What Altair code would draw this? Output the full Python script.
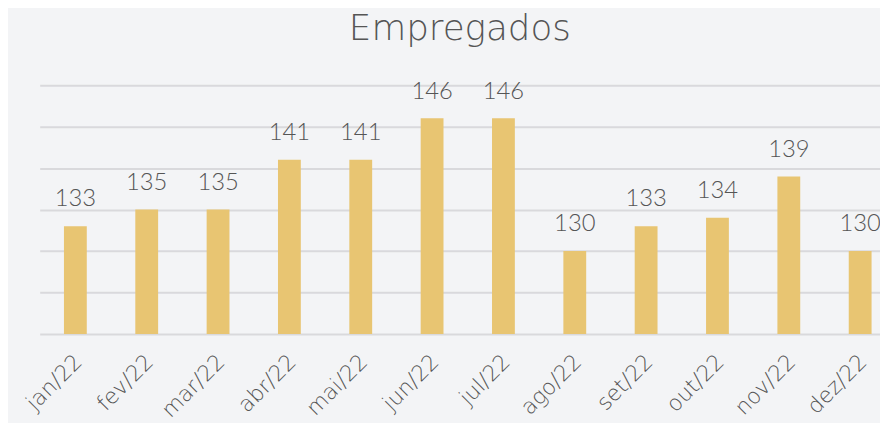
import altair as alt
import pandas as pd

months = ["jan/22", "fev/22", "mar/22", "abr/22", "mai/22", "jun/22",
          "jul/22", "ago/22", "set/22", "out/22", "nov/22", "dez/22"]
empregados = [133, 135, 135, 141, 141, 146, 146, 130, 133, 134, 139, 130]

df = pd.DataFrame({"mes": months, "valor": empregados})

FONT = "Lato"
WIDE = "DejaVu Sans"
BAR = "#e8c572"
TXT = "#555555"

x = alt.X("mes:N", sort=months, title=None,
          scale=alt.Scale(paddingInner=0.68, paddingOuter=0.229, align=0.742),
          axis=alt.Axis(labelAngle=-45, labelFontSize=22, labelFont=WIDE,
                        labelFontWeight=200, labelColor=TXT, labelPadding=17,
                        labelOffset=-4,
                        domain=False, ticks=False, grid=False))
y = alt.Y("valor:Q", title=None,
          scale=alt.Scale(domain=[120, 150], nice=False, zero=False),
          axis=alt.Axis(values=[120, 125, 130, 135, 140, 145, 150], labels=False,
                        ticks=False, domain=False, grid=True,
                        gridColor="#d9d9dc", gridWidth=2))

base = alt.Chart(df).encode(x=x, y=y)
bars = base.mark_bar(color=BAR, clip=True)
labels = base.mark_text(baseline="bottom", dy=-15, fontSize=24, font=FONT,
                        fontWeight=300, color=TXT).encode(text="valor:Q")

chart = (bars + labels).properties(
    width=848, height=251,
    background="#f3f4f6",
    autosize=alt.AutoSizeParams(type="none"),
    padding={"left": 32, "top": 76, "right": 0, "bottom": 88},
    title=alt.TitleParams("Empregados", fontSize=36, font=WIDE, fontWeight=200,
                          color=TXT, offset=32, anchor="middle"),
).configure_view(stroke=None)

chart.save("out.html", embed_options={"renderer": "svg", "actions": False})
